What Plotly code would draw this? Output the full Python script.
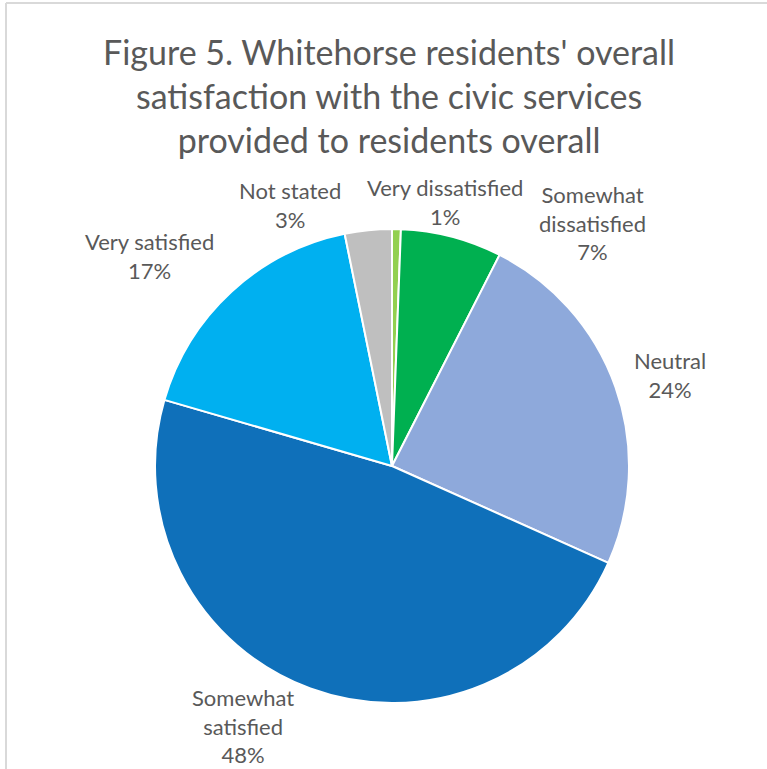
import plotly.graph_objects as go

categories = ["Very dissatisfied", "Somewhat dissatisfied", "Neutral",
              "Somewhat satisfied", "Very satisfied", "Not stated"]
values = [0.6, 6.9, 24.2, 47.8, 17.3, 3.2]
colors = ["#92D050", "#00B050", "#8EA9DB", "#0F70BA", "#00B0F0", "#BFBFBF"]
display_labels = ["Very dissatisfied", "Somewhat<br>dissatisfied", "Neutral",
                  "Somewhat<br>satisfied", "Very satisfied", "Not stated"]

W, H = 767, 769
cx, cy, r = 392, 466, 237

# label centres (pixels), Excel-style placement
label_pos = [(445, 202), (592, 223), (670, 375), (243, 726), (149, 256), (290, 205)]

fig = go.Figure(go.Pie(
    labels=categories,
    values=values,
    sort=False,
    direction="clockwise",
    rotation=0,
    marker=dict(colors=colors, line=dict(color="white", width=2)),
    textinfo="none",
    showlegend=False,
    hoverinfo="label+percent",
    domain=dict(x=[(cx - r) / W, (cx + r) / W], y=[1 - (cy + r) / H, 1 - (cy - r) / H]),
))

total = sum(values)
annotations = []
for lab, v, (px, py) in zip(display_labels, values, label_pos):
    annotations.append(dict(
        text=f"{lab}<br>{round(v / total * 100)}%",
        x=px / W, y=1 - py / H, xref="paper", yref="paper",
        xanchor="center", yanchor="middle", showarrow=False, align="center",
        font=dict(family="Lato", size=22, color="#595959"),
    ))

annotations.append(dict(
    text="Figure 5. Whitehorse residents' overall<br>satisfaction with the civic services<br>provided to residents overall",
    x=389 / W, y=1 - 95 / H, xref="paper", yref="paper",
    xanchor="center", yanchor="middle", showarrow=False, align="center",
    font=dict(family="Lato", size=34, color="#595959"),
))

fig.update_layout(
    width=W, height=H,
    margin=dict(l=0, r=0, t=0, b=0),
    paper_bgcolor="white",
    annotations=annotations,
    shapes=[
        dict(type="line", xref="paper", yref="paper", x0=6 / W, x1=1, y0=1 - 3 / H, y1=1 - 3 / H,
             line=dict(color="#D9D9D9", width=2)),
        dict(type="line", xref="paper", yref="paper", x0=6 / W, x1=6 / W, y0=0, y1=1 - 3 / H,
             line=dict(color="#D9D9D9", width=2)),
    ],
)

fig.write_html("out.html")
